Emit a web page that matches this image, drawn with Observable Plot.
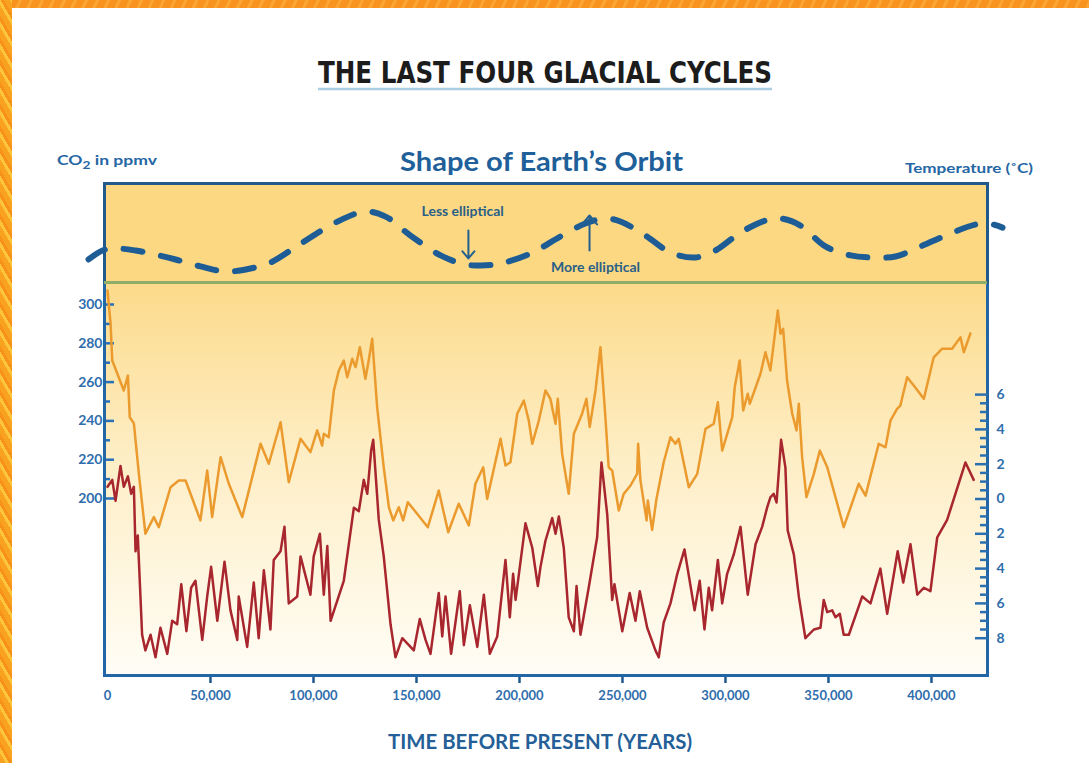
<!DOCTYPE html>
<html>
<head>
<meta charset="utf-8">
<script src="https://cdn.jsdelivr.net/npm/d3@7"></script>
<script src="https://cdn.jsdelivr.net/npm/@observablehq/plot@0.6"></script>
<style>
html,body{margin:0;padding:0;background:#fff;}
#stage{position:relative;width:1089px;height:763px;overflow:hidden;background:#fff;}
#borderTop{position:absolute;left:0;top:0;width:1089px;height:8px;background:repeating-linear-gradient(115deg,#f7931e 0 7px,#fba634 7px 10px);}
#borderLeft{position:absolute;left:0;top:0;width:12px;height:763px;background:repeating-linear-gradient(60deg,#f8a21f 0 5px,#fcc53c 5px 8px,#f6921a 8px 11px);}
#chart{position:absolute;left:0;top:0;width:1089px;height:763px;}
#texts{position:absolute;left:0;top:0;}
</style>
</head>
<body>
<div id="stage">
  <div id="chart"></div>
  <svg id="texts" width="1089" height="763" xmlns="http://www.w3.org/2000/svg">
    <text x="318" y="83" textLength="454" lengthAdjust="spacingAndGlyphs" font-family="'DejaVu Sans Condensed','Liberation Sans Narrow',sans-serif" font-weight="bold" font-size="31" fill="#1c1c1c">THE LAST FOUR GLACIAL CYCLES</text>
    <line x1="318" x2="772" y1="89" y2="89" stroke="#a9cde2" stroke-width="2.5"/>
    <text x="57" y="165" textLength="100" lengthAdjust="spacingAndGlyphs" font-family="Lato,'Open Sans',sans-serif" font-weight="700" font-size="14" fill="#2566a4">CO<tspan dy="4" font-size="11">2</tspan><tspan dy="-4"> in ppmv</tspan></text>
    <text x="400" y="171" textLength="283" lengthAdjust="spacingAndGlyphs" font-family="Lato,'Open Sans',sans-serif" font-weight="700" font-size="27" fill="#1f5f9a">Shape of Earth’s Orbit</text>
    <text x="905" y="173" textLength="128" lengthAdjust="spacingAndGlyphs" font-family="Lato,'Open Sans',sans-serif" font-weight="700" font-size="14" fill="#2566a4">Temperature (˚C)</text>
    <text x="388" y="749" textLength="304" lengthAdjust="spacingAndGlyphs" font-family="Lato,'Open Sans',sans-serif" font-weight="700" font-size="20" fill="#245f98">TIME BEFORE PRESENT (YEARS)</text>
  </svg>
  <div id="borderTop"></div>
  <div id="borderLeft"></div>
</div>
<script>
// ---------------- data ----------------
// CO2 record: [years before present, ppmv]
const co2Record = [
  [0,307.2],[1500,290.2],[2300,271.1],[7900,255.7],[9900,263.4],[10800,241.9],[12800,238.7],[15200,212.9],
  [18400,181.8],[22500,190.4],[24900,185.2],[30600,205.8],[34600,209.3],[37900,209.3],[45100,188.7],[48400,214.4],
  [50800,190.4],[54900,221.3],[58900,207.6],[65400,190.4],[74300,228.2],[78300,217.9],[84000,239.3],[88000,208.4],
  [93700,230.8],[98500,223.9],[101800,235.1],[104200,227.3],[105000,233.4],[107400,231.6],[109900,255.7],[112300,266.0],
  [114700,271.1],[116400,262.5],[118800,272.0],[120400,267.7],[122500,278.0],[125200,261.7],[126800,271.1],[128500,282.3],
  [130900,247.1],[134100,216.1],[136600,195.5],[138700,188.7],[141400,195.5],[143500,188.7],[145800,198.1],[150300,192.1],
  [155500,185.2],[160800,204.1],[165400,182.6],[170500,197.3],[175400,186.1],[178600,207.6],[182400,216.1],[184300,199.8],
  [190800,230.8],[193200,217.0],[195600,218.7],[198900,243.7],[202100,250.5],[204500,240.2],[206200,228.2],[209400,240.2],
  [212600,255.7],[215000,251.4],[217500,238.5],[218600,251.4],[220700,223.0],[223900,202.4],[226400,233.4],[230400,243.7],
  [232500,251.4],[234100,236.8],[236900,255.7],[239300,278.0],[241700,241.9],[243300,216.1],[245000,214.4],[248200,193.8],
  [250600,202.4],[253900,206.7],[257100,212.7],[257600,228.2],[258700,209.5],[261700,188.7],[262300,199.0],[264400,183.8],
  [266500,199.8],[270000,218.7],[273300,231.6],[275700,228.2],[277300,230.8],[282200,205.8],[286300,212.7],[290300,235.9],
  [294300,238.5],[296300,249.6],[298400,224.7],[303300,241.9],[304500,257.4],[306900,271.1],[308600,245.4],[310800,254.0],
  [311800,248.8],[317000,264.3],[319400,275.4],[321800,266.0],[325400,296.9],[326700,284.9],[328000,287.5],[329900,260.8],
  [332400,243.7],[334500,235.1],[335600,248.8],[337200,221.3],[339300,200.7],[342900,212.7],[345800,224.7],[349400,216.1],
  [357400,185.2],[364700,207.6],[368000,201.5],[374400,228.2],[377700,226.4],[380100,240.2],[383300,246.2],[384900,247.9],
  [388200,262.5],[391400,258.2],[396300,251.4],[401100,272.8],[405200,277.2],[410000,277.2],[414100,283.1],[415700,275.4],
  [418900,285.1]
];

// Temperature record: [years before present, °C relative to present]
const tempRecord = [
  [0,0.7],[2300,1.1],[3900,-0.1],[6300,1.9],[7900,0.7],[9900,1.3],[11500,0.3],[12800,0.7],[13600,-3.0],[14700,-2.1],
  [16800,-7.8],[18400,-8.7],[20900,-7.8],[23300,-9.1],[25700,-7.4],[29000,-8.9],[31400,-7.0],[33800,-7.2],[35800,-4.9],
  [38300,-7.6],[40600,-5.1],[42700,-4.7],[46000,-8.1],[48400,-5.6],[50300,-3.9],[53300,-7.0],[56800,-3.6],[59700,-6.4],
  [63000,-8.1],[63700,-5.6],[67800,-8.5],[71000,-4.8],[73400,-8.0],[75900,-4.1],[79100,-7.5],[80700,-3.5],[84000,-3.0],
  [85900,-1.6],[88000,-6.0],[92100,-5.6],[93700,-3.3],[98500,-5.5],[100100,-3.3],[103100,-2.0],[105000,-5.5],[106700,-2.7],
  [108300,-7.0],[114700,-4.7],[119600,-0.5],[122000,-0.7],[124400,1.1],[126100,0.3],[128000,2.8],[129000,3.4],[131700,-1.2],
  [134100,-3.3],[137400,-7.2],[139800,-9.1],[143100,-8.0],[146300,-8.4],[148700,-8.7],[151600,-6.9],[154400,-8.1],
  [156800,-8.9],[160800,-5.4],[162500,-7.9],[164100,-5.6],[166800,-8.9],[171000,-5.3],[173000,-8.4],[175900,-6.1],
  [179500,-8.5],[182700,-5.5],[185600,-8.9],[189200,-7.9],[193200,-3.5],[195300,-6.8],[196900,-4.3],[198100,-5.8],
  [202900,-1.4],[206200,-2.8],[208900,-5.0],[210200,-3.9],[212600,-2.4],[215900,-1.1],[217500,-2.0],[219100,-1.0],
  [221500,-2.8],[223900,-6.8],[226400,-7.6],[227700,-5.0],[229600,-7.8],[233600,-5.1],[237700,-2.2],[239800,2.1],
  [242600,-0.9],[245000,-5.8],[246100,-4.9],[249900,-7.6],[253500,-5.4],[256300,-7.0],[258400,-5.3],[262000,-7.4],
  [266000,-8.7],[267600,-9.1],[270000,-7.1],[273300,-6.0],[276600,-4.3],[280100,-2.9],[285000,-6.4],[287500,-4.7],
  [289800,-7.5],[291900,-5.1],[293500,-6.4],[296300,-3.5],[298400,-6.0],[300800,-4.3],[304000,-3.2],[307300,-1.6],
  [310800,-5.5],[314600,-2.6],[317800,-1.6],[320200,-0.5],[321800,0.1],[323400,0.3],[324800,-0.2],[327000,3.4],
  [329100,1.8],[330200,-1.8],[333200,-3.2],[335600,-5.6],[338800,-8.0],[342900,-7.5],[346100,-7.4],[347700,-5.8],
  [349400,-6.5],[351800,-6.4],[353400,-6.8],[355500,-6.6],[357400,-7.8],[359900,-7.8],[366400,-5.6],[370400,-6.0],
  [375200,-4.0],[378500,-6.6],[383600,-3.0],[386300,-4.8],[389800,-2.6],[393100,-5.5],[396300,-5.1],[399500,-5.3],
  [402800,-2.2],[407600,-1.2],[416500,2.1],[420500,1.1]
];

// Orbital eccentricity (shape of Earth's orbit): [years before present, eccentricity]
const orbitRecord = [
  [-9200,0.0126],[-2400,0.0188],[3900,0.0202],[13600,0.0188],[20900,0.0167],[33000,0.0126],[45100,0.0078],
  [57300,0.0043],[69400,0.0064],[79100,0.0105],[88800,0.0188],[98500,0.0278],[110700,0.0381],[125200,0.0457],
  [135000,0.0422],[147100,0.0291],[161700,0.0154],[173800,0.0091],[181100,0.0085],[190800,0.0098],[205300,0.0167],
  [219900,0.0285],[232000,0.0374],[241700,0.0409],[249000,0.0388],[261200,0.0291],[273300,0.0174],[285400,0.0140],
  [295100,0.0188],[307300,0.0312],[319400,0.0395],[326700,0.0409],[336400,0.0360],[348500,0.0216],[360700,0.0154],
  [370400,0.0140],[382500,0.0147],[394700,0.0216],[409200,0.0305],[421400,0.0367],[427700,0.0374],[434500,0.0346]
];

// Orbit annotations
const orbitLabels = [
  {year: 172400, ecc: 0.0457, text: "Less elliptical"},
  {year: 236900, ecc: 0.0071, text: "More elliptical"}
];
const orbitArrows = [
  {year: 175200, from: 0.0326, to: 0.0133},
  {year: 234000, from: 0.0188, to: 0.0430}
];

// Ticks
const xTicks = [0, 50000, 100000, 150000, 200000, 250000, 300000, 350000, 400000];
const co2MajorTicks = [200, 220, 240, 260, 280, 300];
const co2MinorTicks = [210, 230, 250, 270, 290];
const tempMajorTicks = [-8, -6, -4, -2, 0, 2, 4, 6];
const tempMinorTicks = d3.range(-8, 6.01, 0.5).filter(d => !tempMajorTicks.includes(d));

// ---------------- layout ----------------
const W = 1089, H = 763;
const frameLeft = 104, frameRight = 987, orbitTop = 183, orbitBottom = 282, plotBottom = 675;
const xDomain = [-1460, 427200];
const co2Domain = [108.76, 311.34];
const tempDomain = [-10.144, 12.443];
const orbitDomain = [-0.00328, 0.06503];

const co2 = co2Record.map(([year, ppm]) => ({year, ppm}));
const temp = tempRecord.map(([year, t]) => ({year, t}));
const orbit = orbitRecord.map(([year, ecc]) => ({year, ecc}));

const font = "Lato, 'Open Sans', sans-serif";
const chart = document.getElementById("chart");
function place(svg) {
  svg.style.position = "absolute";
  svg.style.left = "0px";
  svg.style.top = "0px";
  chart.appendChild(svg);
}

// Lower panel: CO2
const co2Plot = Plot.plot({
  width: W, height: H,
  marginTop: orbitBottom, marginBottom: H - plotBottom,
  marginLeft: frameLeft, marginRight: W - frameRight,
  x: {domain: xDomain},
  y: {domain: co2Domain},
  style: {background: "transparent", overflow: "visible", fontFamily: font},
  marks: [
    Plot.frame({fill: "url(#lowerGrad)"}),
    Plot.axisX({ticks: xTicks.filter(d => d > 0), tickSize: 8, tickFormat: () => "", stroke: "#1f5a8f", strokeWidth: 2.5, label: null}),
    Plot.axisX({ticks: xTicks, tickSize: 0, tickPadding: 15, tickFormat: d3.format(","), fill: "#2f6dac", fontSize: 13, fontWeight: "bold", label: null}),
    Plot.axisY({anchor: "left", ticks: co2MinorTicks, tickSize: -6, tickFormat: () => "", stroke: "#2870b8", strokeWidth: 2.5, label: null}),
    Plot.axisY({anchor: "left", ticks: co2MajorTicks, tickSize: -10, tickPadding: 12, tickFormat: d => d, stroke: "#2870b8", strokeWidth: 2.5, fill: "#2f6dac", fontSize: 14, fontWeight: "bold", label: null}),
    Plot.line(co2, {x: "year", y: "ppm", stroke: "#eb9a2e", strokeWidth: 2.5, strokeLinejoin: "round"}),
    Plot.frame({stroke: "#2366a6", strokeWidth: 3})
  ]
});
const defs = d3.select(co2Plot).insert("defs", ":first-child");
const grad = defs.append("linearGradient").attr("id", "lowerGrad").attr("x1", 0).attr("y1", 0).attr("x2", 0).attr("y2", 1);
grad.append("stop").attr("offset", "0%").attr("stop-color", "#fcda8a");
grad.append("stop").attr("offset", "45%").attr("stop-color", "#feeec6");
grad.append("stop").attr("offset", "100%").attr("stop-color", "#fffdf6");
place(co2Plot);

// Lower panel: temperature (right axis)
const tempPlot = Plot.plot({
  width: W, height: H,
  marginTop: orbitBottom, marginBottom: H - plotBottom,
  marginLeft: frameLeft, marginRight: W - frameRight,
  x: {domain: xDomain, axis: null},
  y: {domain: tempDomain},
  style: {background: "transparent", overflow: "visible", fontFamily: font},
  marks: [
    Plot.axisY({anchor: "right", ticks: tempMinorTicks, tickSize: -8, tickFormat: () => "", stroke: "#2a6fb0", strokeWidth: 2.5, label: null}),
    Plot.axisY({anchor: "right", ticks: tempMajorTicks, tickSize: -13, tickPadding: 22, tickFormat: d => Math.abs(d), stroke: "#2a6fb0", strokeWidth: 2.5, fill: "#2f6dac", fontSize: 14, fontWeight: "bold", label: null}),
    Plot.line(temp, {x: "year", y: "t", stroke: "#a8262e", strokeWidth: 2.5, strokeLinejoin: "round"})
  ]
});
place(tempPlot);

// Upper panel: shape of Earth's orbit
const orbitPlot = Plot.plot({
  width: W, height: H,
  marginTop: orbitTop, marginBottom: H - orbitBottom,
  marginLeft: frameLeft, marginRight: W - frameRight,
  x: {domain: xDomain, axis: null},
  y: {domain: orbitDomain, axis: null},
  style: {background: "transparent", overflow: "visible", fontFamily: font},
  marks: [
    Plot.frame({fill: "#fcd882", stroke: "#1f5a8a", strokeWidth: 3}),
    Plot.ruleY([orbitDomain[0]], {stroke: "#8fae6a", strokeWidth: 3}),
    Plot.line(orbit, {x: "year", y: "ecc", stroke: "#1d5c95", strokeWidth: 6, strokeDasharray: "19,19", curve: "catmull-rom"}),
    Plot.arrow(orbitArrows, {x: "year", y1: "from", y2: "to", stroke: "#24608f", strokeWidth: 2, headLength: 10, headAngle: 80}),
    Plot.text(orbitLabels, {x: "year", y: "ecc", text: "text", fill: "#2a6088", fontSize: 14, fontWeight: "bold"})
  ]
});
place(orbitPlot);
</script>
</body>
</html>
